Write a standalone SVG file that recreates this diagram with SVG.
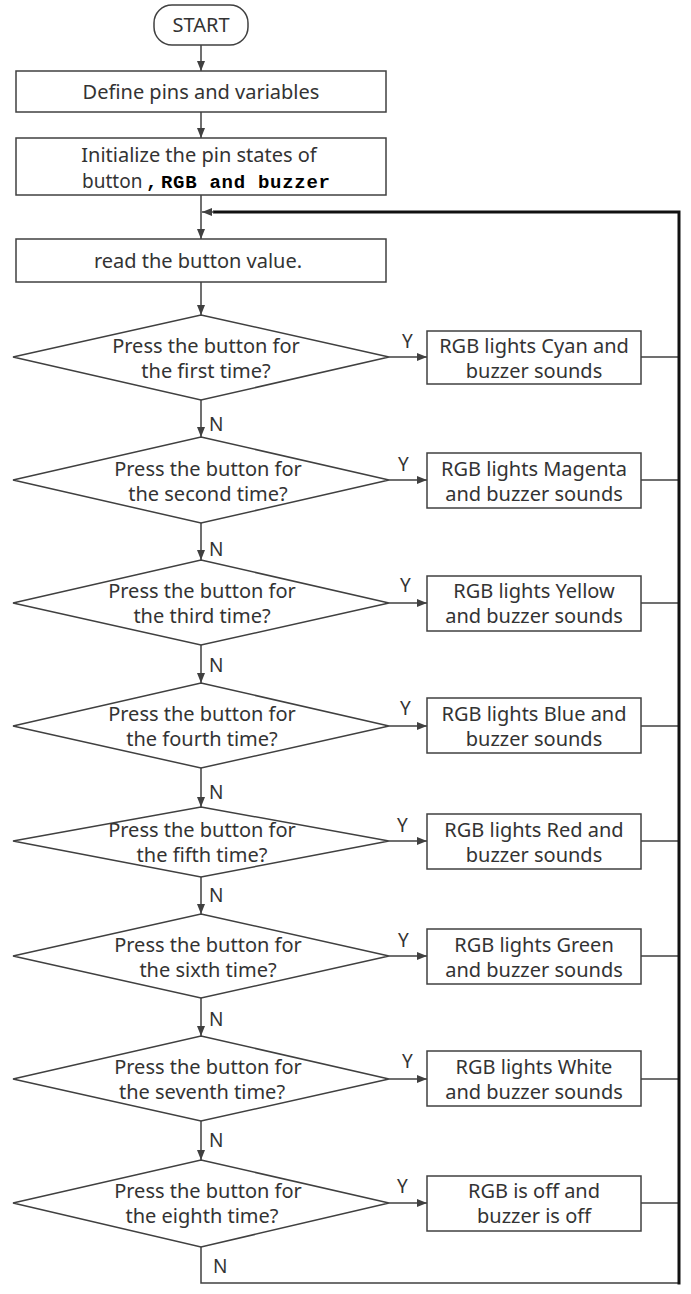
<svg xmlns="http://www.w3.org/2000/svg" width="691" height="1294" viewBox="0 0 691 1294">
<style>
.shape{fill:#fff;stroke:#404040;stroke-width:1.5}
.t{font-family:"Noto Sans","Open Sans","DejaVu Sans",sans-serif;font-size:20px;fill:#333;text-anchor:middle}
.lb{font-family:"Noto Sans","Open Sans","DejaVu Sans",sans-serif;font-size:19px;fill:#333}
.ln{fill:none;stroke:#404040;stroke-width:1.5}
.thick{fill:none;stroke:#111;stroke-width:3}
.mono{font-family:"Liberation Mono","DejaVu Sans Mono",monospace;font-weight:bold;fill:#000}
</style>
<defs>
<marker id="ah" viewBox="0 0 10 10" refX="10" refY="5" markerWidth="10" markerHeight="10" markerUnits="userSpaceOnUse" orient="auto">
<path d="M0,1 L10,5 L0,9 z" fill="#404040"/>
</marker>
</defs>
<rect width="691" height="1294" fill="#fff"/>
<g id="connectors">
<line class="ln" x1="201" y1="45" x2="201" y2="71" marker-end="url(#ah)"/>
<line class="ln" x1="201" y1="112" x2="201" y2="138" marker-end="url(#ah)"/>
<line class="ln" x1="201" y1="195" x2="201" y2="239" marker-end="url(#ah)"/>
<line class="ln" x1="201" y1="282" x2="201" y2="315" marker-end="url(#ah)"/>
<line class="ln" x1="201" y1="400" x2="201" y2="437" marker-end="url(#ah)"/>
<line class="ln" x1="201" y1="523" x2="201" y2="560" marker-end="url(#ah)"/>
<line class="ln" x1="201" y1="645" x2="201" y2="683" marker-end="url(#ah)"/>
<line class="ln" x1="201" y1="768" x2="201" y2="807" marker-end="url(#ah)"/>
<line class="ln" x1="201" y1="877" x2="201" y2="914" marker-end="url(#ah)"/>
<line class="ln" x1="201" y1="998" x2="201" y2="1036" marker-end="url(#ah)"/>
<line class="ln" x1="201" y1="1121" x2="201" y2="1160" marker-end="url(#ah)"/>
<line class="ln" x1="389" y1="357" x2="427" y2="357" marker-end="url(#ah)"/>
<line class="ln" x1="389" y1="480" x2="427" y2="480" marker-end="url(#ah)"/>
<line class="ln" x1="389" y1="603" x2="427" y2="603" marker-end="url(#ah)"/>
<line class="ln" x1="389" y1="726" x2="427" y2="726" marker-end="url(#ah)"/>
<line class="ln" x1="389" y1="841" x2="427" y2="841" marker-end="url(#ah)"/>
<line class="ln" x1="389" y1="956" x2="427" y2="956" marker-end="url(#ah)"/>
<line class="ln" x1="389" y1="1079" x2="427" y2="1079" marker-end="url(#ah)"/>
<line class="ln" x1="389" y1="1203" x2="427" y2="1203" marker-end="url(#ah)"/>
<line class="ln" x1="641" y1="357" x2="679" y2="357"/>
<line class="ln" x1="641" y1="480" x2="679" y2="480"/>
<line class="ln" x1="641" y1="603" x2="679" y2="603"/>
<line class="ln" x1="641" y1="726" x2="679" y2="726"/>
<line class="ln" x1="641" y1="841" x2="679" y2="841"/>
<line class="ln" x1="641" y1="956" x2="679" y2="956"/>
<line class="ln" x1="641" y1="1079" x2="679" y2="1079"/>
<line class="ln" x1="641" y1="1203" x2="679" y2="1203"/>
<path class="ln" d="M201,1247 V1283 H679"/>
<path class="thick" d="M679,1284.5 V212 H213"/>
<line class="ln" x1="214" y1="212" x2="202" y2="212" marker-end="url(#ah)"/>
<text class="lb" x="402" y="348">Y</text>
<text class="lb" x="398" y="471">Y</text>
<text class="lb" x="400" y="592">Y</text>
<text class="lb" x="400" y="715">Y</text>
<text class="lb" x="397" y="832">Y</text>
<text class="lb" x="398" y="947">Y</text>
<text class="lb" x="402" y="1068">Y</text>
<text class="lb" x="397" y="1193">Y</text>
<text class="lb" x="209" y="431">N</text>
<text class="lb" x="209" y="556">N</text>
<text class="lb" x="209" y="672">N</text>
<text class="lb" x="209" y="799">N</text>
<text class="lb" x="209" y="902">N</text>
<text class="lb" x="209" y="1026">N</text>
<text class="lb" x="209" y="1147">N</text>
<text class="lb" x="213" y="1273">N</text>
</g>
<g id="start">
<rect class="shape" x="154" y="5" width="94" height="40" rx="18" ry="18"/>
<text class="t" x="201" y="32">START</text>
</g>
<g id="define">
<rect class="shape" x="16" y="71" width="370" height="41"/>
<text class="t" x="201" y="99">Define pins and variables</text>
</g>
<g id="init">
<rect class="shape" x="16" y="138" width="370" height="57"/>
<text class="t" x="199" y="162">Initialize the pin states of</text>
<text class="lb" font-size="20" x="82" y="188">button<tspan class="mono" font-size="19" x="146">,</tspan><tspan class="mono" font-size="19" x="161" textLength="169" lengthAdjust="spacing">RGB and buzzer</tspan></text>
</g>
<g id="read">
<rect class="shape" x="16" y="239" width="370" height="43"/>
<text class="t" x="198" y="268">read the button value.</text>
</g>
<g id="d1">
<polygon class="shape" points="201,315 389,357 201,400 13,357"/>
<text class="t" x="206" y="353">Press the button for</text>
<text class="t" x="206" y="378">the first time?</text>
</g>
<g id="a1">
<rect class="shape" x="427" y="331" width="214" height="53"/>
<text class="t" x="534" y="353">RGB lights Cyan and</text>
<text class="t" x="534" y="378">buzzer sounds</text>
</g>
<g id="d2">
<polygon class="shape" points="201,437 389,480 201,523 13,480"/>
<text class="t" x="208" y="476">Press the button for</text>
<text class="t" x="208" y="501">the second time?</text>
</g>
<g id="a2">
<rect class="shape" x="427" y="453" width="214" height="55"/>
<text class="t" x="534" y="476">RGB lights Magenta</text>
<text class="t" x="534" y="501">and buzzer sounds</text>
</g>
<g id="d3">
<polygon class="shape" points="201,560 389,603 201,645 13,603"/>
<text class="t" x="202" y="598">Press the button for</text>
<text class="t" x="202" y="623">the third time?</text>
</g>
<g id="a3">
<rect class="shape" x="427" y="576" width="214" height="55"/>
<text class="t" x="534" y="598">RGB lights Yellow</text>
<text class="t" x="534" y="623">and buzzer sounds</text>
</g>
<g id="d4">
<polygon class="shape" points="201,683 389,726 201,768 13,726"/>
<text class="t" x="202" y="721">Press the button for</text>
<text class="t" x="202" y="746">the fourth time?</text>
</g>
<g id="a4">
<rect class="shape" x="427" y="698" width="214" height="55"/>
<text class="t" x="534" y="721">RGB lights Blue and</text>
<text class="t" x="534" y="746">buzzer sounds</text>
</g>
<g id="d5">
<polygon class="shape" points="201,807 389,841 201,877 13,841"/>
<text class="t" x="202" y="837">Press the button for</text>
<text class="t" x="202" y="862">the fifth time?</text>
</g>
<g id="a5">
<rect class="shape" x="427" y="814" width="214" height="55"/>
<text class="t" x="534" y="837">RGB lights Red and</text>
<text class="t" x="534" y="862">buzzer sounds</text>
</g>
<g id="d6">
<polygon class="shape" points="201,914 389,956 201,998 13,956"/>
<text class="t" x="208" y="952">Press the button for</text>
<text class="t" x="208" y="977">the sixth time?</text>
</g>
<g id="a6">
<rect class="shape" x="427" y="929" width="214" height="55"/>
<text class="t" x="534" y="952">RGB lights Green</text>
<text class="t" x="534" y="977">and buzzer sounds</text>
</g>
<g id="d7">
<polygon class="shape" points="201,1036 389,1079 201,1121 13,1079"/>
<text class="t" x="208" y="1074">Press the button for</text>
<text class="t" x="202" y="1099">the seventh time?</text>
</g>
<g id="a7">
<rect class="shape" x="427" y="1051" width="214" height="55"/>
<text class="t" x="534" y="1074">RGB lights White</text>
<text class="t" x="534" y="1099">and buzzer sounds</text>
</g>
<g id="d8">
<polygon class="shape" points="201,1160 389,1203 201,1247 13,1203"/>
<text class="t" x="208" y="1198">Press the button for</text>
<text class="t" x="202" y="1223">the eighth time?</text>
</g>
<g id="a8">
<rect class="shape" x="427" y="1176" width="214" height="55"/>
<text class="t" x="534" y="1198">RGB is off and</text>
<text class="t" x="534" y="1223">buzzer is off</text>
</g>
</svg>
